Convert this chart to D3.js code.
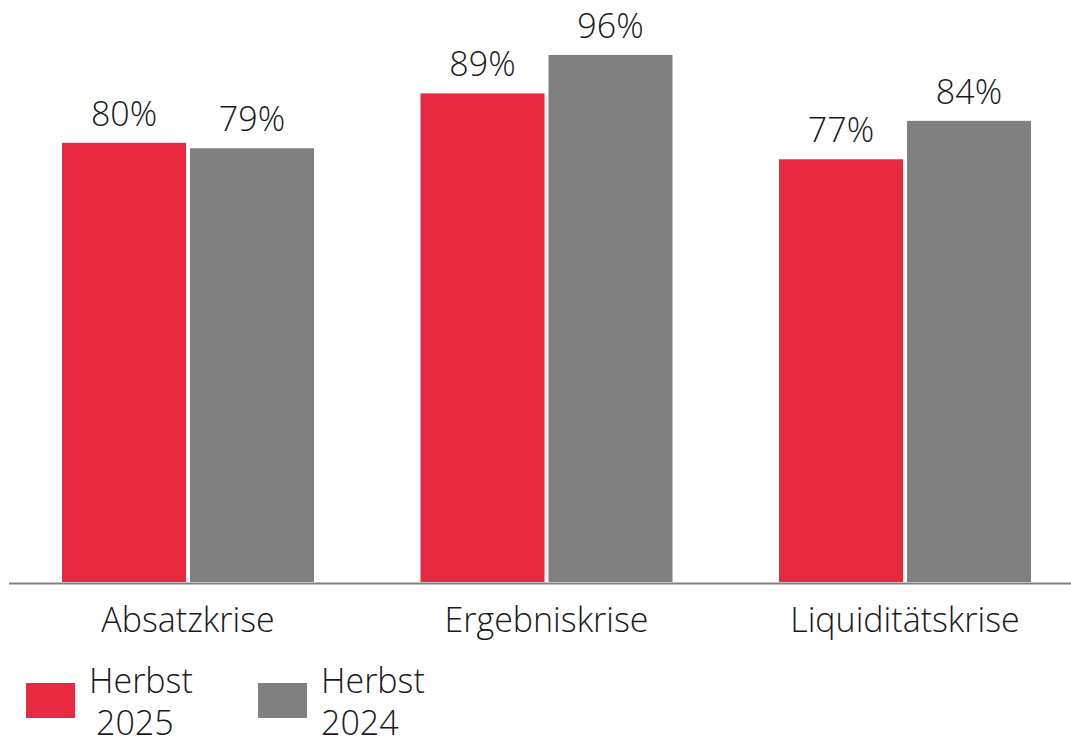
<!DOCTYPE html>
<html>
<head>
<meta charset="utf-8">
<script src="https://cdn.jsdelivr.net/npm/d3@7"></script>
<style>
  body { margin: 0; background: #fff; }
  text { font-family: "Open Sans", sans-serif; font-weight: 300; fill: #1a1a1a; }
</style>
</head>
<body>
<div id="chart"></div>
<script>
var categories = ["Absatzkrise", "Ergebniskrise", "Liquiditätskrise"];
var seriesNames = ["Herbst 2025", "Herbst 2024"];
var values2025 = [80, 89, 77];
var values2024 = [79, 96, 84];
var colors = ["#e72a41", "#808080"];

var width = 1071, height = 741;
var baseY = 582;

var svg = d3.select("#chart").append("svg")
    .attr("width", width)
    .attr("height", height);

var x0 = d3.scaleBand()
    .domain(categories)
    .range([62, 1031])
    .paddingInner(0.297)
    .paddingOuter(0);

var x1 = d3.scaleBand()
    .domain(seriesNames)
    .range([0, x0.bandwidth()])
    .paddingInner(0.031);

var y = d3.scaleLinear()
    .domain([0, 100])
    .range([baseY, baseY - 549]);

var rows = categories.map(function(c, i) {
    return {cat: c, vals: [
        {name: seriesNames[0], v: values2025[i], color: colors[0]},
        {name: seriesNames[1], v: values2024[i], color: colors[1]}
    ]};
});

var groups = svg.selectAll(".group")
    .data(rows)
    .enter().append("g")
    .attr("class", "group")
    .attr("transform", function(d) { return "translate(" + x0(d.cat) + ",0)"; });

groups.selectAll("rect")
    .data(function(d) { return d.vals; })
    .enter().append("rect")
    .attr("x", function(d) { return x1(d.name); })
    .attr("y", function(d) { return y(d.v); })
    .attr("width", x1.bandwidth())
    .attr("height", function(d) { return baseY - y(d.v); })
    .attr("fill", function(d) { return d.color; });

groups.selectAll(".val")
    .data(function(d) { return d.vals; })
    .enter().append("text")
    .attr("class", "val")
    .attr("x", function(d) { return x1(d.name) + x1.bandwidth() / 2; })
    .attr("y", function(d) { return y(d.v) - 17; })
    .attr("text-anchor", "middle")
    .style("font-size", "34px")
    .text(function(d) { return d.v + "%"; });

// baseline
svg.append("line")
    .attr("x1", 9).attr("x2", width)
    .attr("y1", baseY + 1.5).attr("y2", baseY + 1.5)
    .attr("stroke", "#808080")
    .attr("stroke-width", 2);

// category labels
svg.selectAll(".cat")
    .data(categories)
    .enter().append("text")
    .attr("class", "cat")
    .attr("x", function(d) { return x0(d) + x0.bandwidth() / 2; })
    .attr("y", 632)
    .attr("text-anchor", "middle")
    .style("font-size", "34px")
    .text(function(d) { return d; });

// legend
var legendX = [26, 258];
var legend = svg.selectAll(".legend")
    .data(seriesNames)
    .enter().append("g")
    .attr("class", "legend")
    .attr("transform", function(d, i) { return "translate(" + legendX[i] + ",683)"; });

legend.append("rect")
    .attr("width", 49)
    .attr("height", 35)
    .attr("fill", function(d, i) { return colors[i]; });

legend.append("text")
    .attr("x", 63)
    .attr("y", 10)
    .style("font-size", "34px")
    .text(function(d) { return d.split(" ")[0]; });

legend.append("text")
    .attr("x", function(d, i) { return i == 0 ? 70 : 63; })
    .attr("y", 52)
    .style("font-size", "34px")
    .text(function(d) { return d.split(" ")[1]; });
</script>
</body>
</html>
